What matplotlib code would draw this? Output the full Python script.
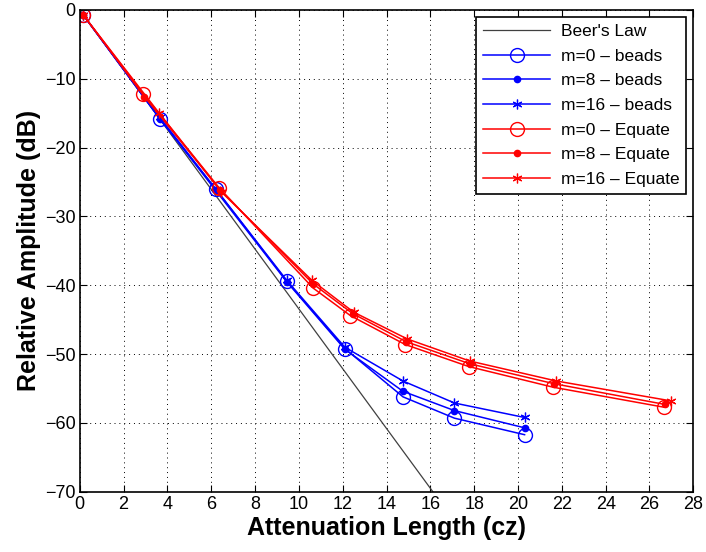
import matplotlib.pyplot as plt
import numpy as np

plt.rcParams['font.family'] = ['Liberation Sans', 'DejaVu Sans']

# Beer's law reference line
beer_x = [0, 16.2]
beer_db_per_cz = -4.343

# beads (all three m values sampled at same lengths)
beads_x = [0.15, 3.65, 6.2, 9.45, 12.1, 14.75, 17.1, 20.3]
beads_m0 = [-0.7, -15.8, -26.0, -39.4, -49.2, -56.2, -59.3, -61.7]
beads_m8 = [-0.7, -15.8, -26.2, -39.5, -49.3, -55.4, -58.2, -60.7]
beads_m16 = [-0.7, -15.6, -26.0, -39.3, -49.0, -53.9, -57.1, -59.2]

# Equate
eq_x_m0 = [0.15, 2.9, 6.35, 10.65, 12.35, 14.85, 17.75, 21.6, 26.65]
eq_m0 = [-0.7, -12.2, -25.8, -40.4, -44.4, -48.6, -51.8, -54.8, -57.7]
eq_x_m8 = [0.15, 2.95, 6.4, 10.65, 12.45, 14.9, 17.8, 21.65, 26.7]
eq_m8 = [-0.7, -12.6, -26.1, -39.8, -44.1, -48.2, -51.4, -54.3, -57.3]
eq_x_m16 = [0.15, 3.6, 6.45, 10.6, 12.5, 14.95, 17.8, 21.75, 27.0]
eq_m16 = [-0.7, -14.9, -26.4, -39.3, -43.9, -47.8, -51.0, -53.9, -56.8]


def main():
    fig = plt.figure(figsize=(7.06, 5.52), dpi=100)
    ax = fig.add_axes([0.113, 0.109, 0.869, 0.873])

    bx = np.array(beer_x)
    ax.plot(bx, bx * beer_db_per_cz, color='#404040', lw=0.9, label="Beer's Law")

    star = (6, 2, 0)
    ax.plot(beads_x, beads_m0, color='blue', lw=1.1, marker='o', ms=10,
            mfc='none', mew=1, label='m=0 \u2013 beads')
    ax.plot(beads_x, beads_m8, color='blue', lw=1.1, marker='.', ms=9,
            label='m=8 \u2013 beads')
    ax.plot(beads_x, beads_m16, color='blue', lw=1.1, marker=star, ms=7,
            mew=0.9, label='m=16 \u2013 beads')
    ax.plot(eq_x_m0, eq_m0, color='red', lw=1.1, marker='o', ms=10,
            mfc='none', mew=1, label='m=0 \u2013 Equate')
    ax.plot(eq_x_m8, eq_m8, color='red', lw=1.1, marker='.', ms=9,
            label='m=8 \u2013 Equate')
    ax.plot(eq_x_m16, eq_m16, color='red', lw=1.1, marker=star, ms=7,
            mew=0.9, label='m=16 \u2013 Equate')

    ax.set_xlim(0, 28)
    ax.set_ylim(-70, 0)
    ax.set_xticks(np.arange(0, 29, 2))
    ax.set_yticks(np.arange(-70, 1, 10))
    ax.set_yticklabels(['\u221270', '\u221260', '\u221250', '\u221240',
                        '\u221230', '\u221220', '\u221210', '0'])
    ax.tick_params(direction='in', top=True, right=True, labelsize=13,
                   length=5, pad=3)
    ax.grid(True, ls=(0, (1, 4)), color='black', lw=0.7)
    for s in ax.spines.values():
        s.set_linewidth(1.2)

    ax.set_xlabel('Attenuation Length (cz)', fontsize=18, fontweight='bold',
                  labelpad=2)
    ax.set_ylabel('Relative Amplitude (dB)', fontsize=18, fontweight='bold',
                  labelpad=3)

    leg = ax.legend(loc='upper right', fontsize=12.5, frameon=True, fancybox=False,
                    edgecolor='black', framealpha=1, handlelength=3.9,
                    borderaxespad=0.4, labelspacing=0.55, handletextpad=0.6,
                    borderpad=0.4)
    leg.get_frame().set_linewidth(1.2)

    plt.savefig('out.png', dpi=100)


if __name__ == '__main__':
    main()
